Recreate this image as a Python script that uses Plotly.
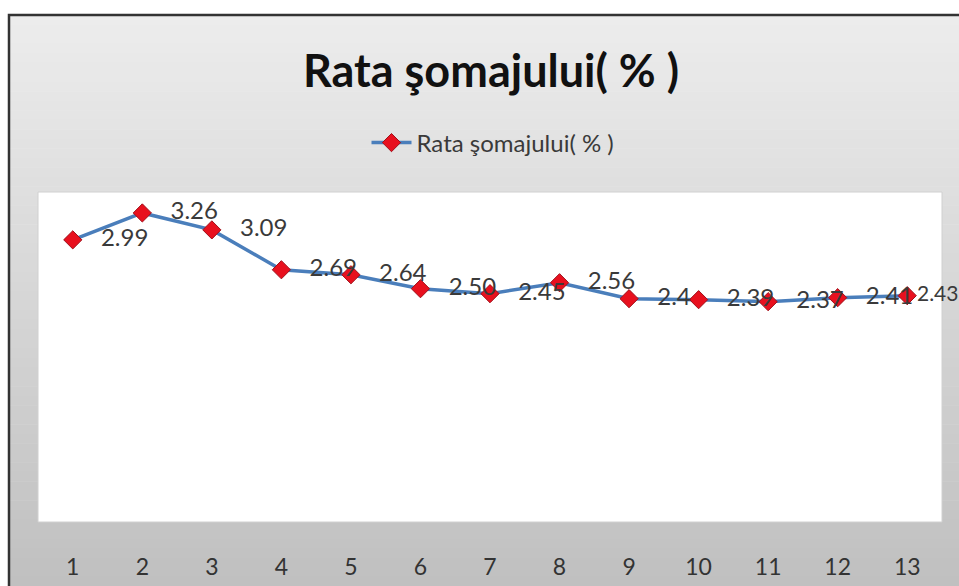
import plotly.graph_objects as go

# data
periods = list(range(1, 14))
rate = [2.99, 3.26, 3.09, 2.69, 2.64, 2.50, 2.45, 2.56, 2.40, 2.39, 2.37, 2.41, 2.43]
rate_labels = ["2.99", "3.26", "3.09", "2.69", "2.64", "2.50", "2.45", "2.56",
               "2.4", "2.39", "2.37", "2.41", "2.43"]

title_text = "Rata şomajului( % )"
series_name = "Rata şomajului( % )"

FONT = "Lato, Open Sans, sans-serif"

W, H = 959, 586
L, R, T, B = 38, 17, 192, 64
pw, ph = W - L - R, H - T - B


def px_x(p):
    return (p - L) / pw


def px_y(p):
    return (H - B - p) / ph


# labels sit a little right of each point; the last one is squeezed at the edge
pad = "\u00a0\u00a0\u00a0"
label_text = [pad + s for s in rate_labels[:-1]] + [rate_labels[-1]]
label_size = [24] * (len(rate_labels) - 1) + [21]

fig = go.Figure()

fig.add_trace(go.Scatter(
    x=periods,
    y=rate,
    mode="lines+markers+text",
    name=series_name,
    text=label_text,
    textposition="middle right",
    textfont=dict(family=FONT, size=label_size, color="#3a3a3a"),
    line=dict(color="#4a7ebb", width=3.5),
    marker=dict(symbol="diamond", size=14, color="#e8101e",
                line=dict(color="#a0101a", width=1)),
    cliponaxis=False,
))

# gradient background drawn as thin strips inside the border
shapes = []
top_px, bot_px = 15, H
n = 60
c0, c1 = 236, 192
for i in range(n):
    y0 = top_px + (bot_px - top_px) * i / n
    y1 = top_px + (bot_px - top_px) * (i + 1) / n + 0.5
    c = round(c0 + (c1 - c0) * i / (n - 1))
    shapes.append(dict(
        type="rect", xref="paper", yref="paper", layer="below",
        x0=px_x(9), x1=px_x(W), y0=px_y(y1), y1=px_y(y0),
        fillcolor=f"rgb({c},{c},{c})", line=dict(width=0),
    ))
# plot area
shapes.append(dict(
    type="rect", xref="paper", yref="paper", layer="below",
    x0=0, x1=1, y0=0, y1=1, fillcolor="white",
    line=dict(color="#d0d0d0", width=1),
))
# outer border
shapes.append(dict(
    type="path", xref="paper", yref="paper",
    path=f"M {px_x(9)} {px_y(H)} L {px_x(9)} {px_y(15)} L {px_x(W)} {px_y(15)}",
    line=dict(color="#333333", width=2.5),
))

fig.update_layout(
    width=W,
    height=H,
    margin=dict(l=L, r=R, t=T, b=B, autoexpand=False),
    paper_bgcolor="white",
    plot_bgcolor="rgba(0,0,0,0)",
    shapes=shapes,
    title=dict(
        text="<b>" + title_text + "</b>",
        x=px_x(491), xref="paper", xanchor="center",
        y=1 - 71 / H, yanchor="middle",
        font=dict(family=FONT, size=45, color="#111111"),
    ),
    showlegend=True,
    legend=dict(
        orientation="h",
        x=px_x(493), xanchor="center",
        y=px_y(143), yanchor="middle",
        bgcolor="rgba(0,0,0,0)",
        font=dict(family=FONT, size=24, color="#3a3a3a"),
        itemwidth=40,
    ),
    xaxis=dict(
        range=[0.5, 13.5],
        tickmode="array",
        tickvals=periods,
        ticktext=[str(p) for p in periods],
        ticks="outside",
        ticklen=24,
        tickcolor="rgba(0,0,0,0)",
        showgrid=False,
        zeroline=False,
        showline=False,
        automargin=False,
        tickfont=dict(family=FONT, size=23, color="#333333"),
    ),
    yaxis=dict(
        range=[0.16, 3.47],
        visible=False,
        showgrid=False,
        zeroline=False,
        automargin=False,
    ),
)

fig.write_html("out.html", config={"displayModeBar": False},
               post_script="document.body.style.margin='0';")
